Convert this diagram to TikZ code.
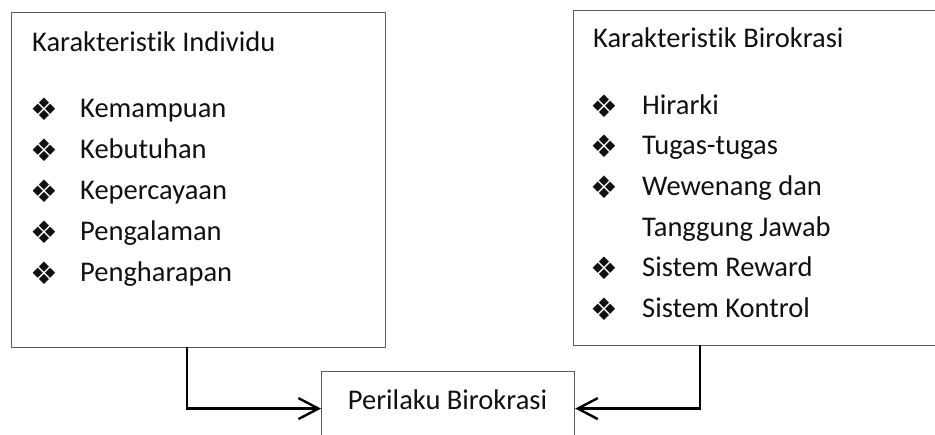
\documentclass[tikz,border=0pt]{standalone}
\usepackage{fontspec}
\setmainfont[Ligatures=NoCommon]{Carlito}
\newfontfamily\symfont{DejaVu Sans}
\usetikzlibrary{arrows.meta}
\definecolor{boxgray}{HTML}{5A5A5A}
\definecolor{txtcol}{HTML}{111111}
\begin{document}
\begin{tikzpicture}[x=1pt,y=-1pt,
  every node/.style={font=\fontsize{28.5}{34}\selectfont, inner sep=0pt, text=txtcol},
  frame/.style={draw=boxgray, line width=1.2pt, rectangle, anchor=north west},
  txt/.style={anchor=base west},
  bul/.style={anchor=center, font=\symfont\fontsize{31}{36}\selectfont},
  conn/.style={draw=black, line width=2.2pt, -{Straight Barb[length=20pt,width=21pt,line width=2.4pt]}}]
\useasboundingbox (0,0) rectangle (935,435);
% boxes
\node[frame, minimum width=374pt, minimum height=335pt] (ind) at (11,12) {};
\node[frame, minimum width=400pt, minimum height=335pt] (bir) at (573,10) {};
\node[frame, minimum width=253pt, minimum height=74pt] (per) at (321,371) {};
% left box texts
\node[txt] (t1) at (32,52) {Karakteristik Individu};
\foreach \y/\t [count=\i] in {118/Kemampuan,159/Kebutuhan,200/Kepercayaan,241/Pengalaman,282/Pengharapan}{
  \node[bul] (lb\i) at (44,\y-9) {❖};
  \node[txt] (li\i) at (80,\y) {\t};
}
% right box texts
\node[txt] (t2) at (593,48) {Karakteristik Birokrasi};
\foreach \y/\t [count=\i] in {115/Hirarki,155/Tugas-tugas,196/Wewenang dan,277/Sistem Reward,318/Sistem Kontrol}{
  \node[bul] (rb\i) at (604,\y-9) {❖};
  \node[txt] (ri\i) at (642,\y) {\t};
}
\node[txt] (ri6) at (642,237) {Tanggung Jawab};
% bottom text
\node[anchor=base] (pt) at (447.5,410) {Perilaku Birokrasi};
% connectors
\coordinate (c1) at (187,347);
\coordinate (c2) at (700,345);
\draw[conn] (c1) |- (per.west);
\draw[conn] (c2) |- (per.east);
\end{tikzpicture}
\end{document}
